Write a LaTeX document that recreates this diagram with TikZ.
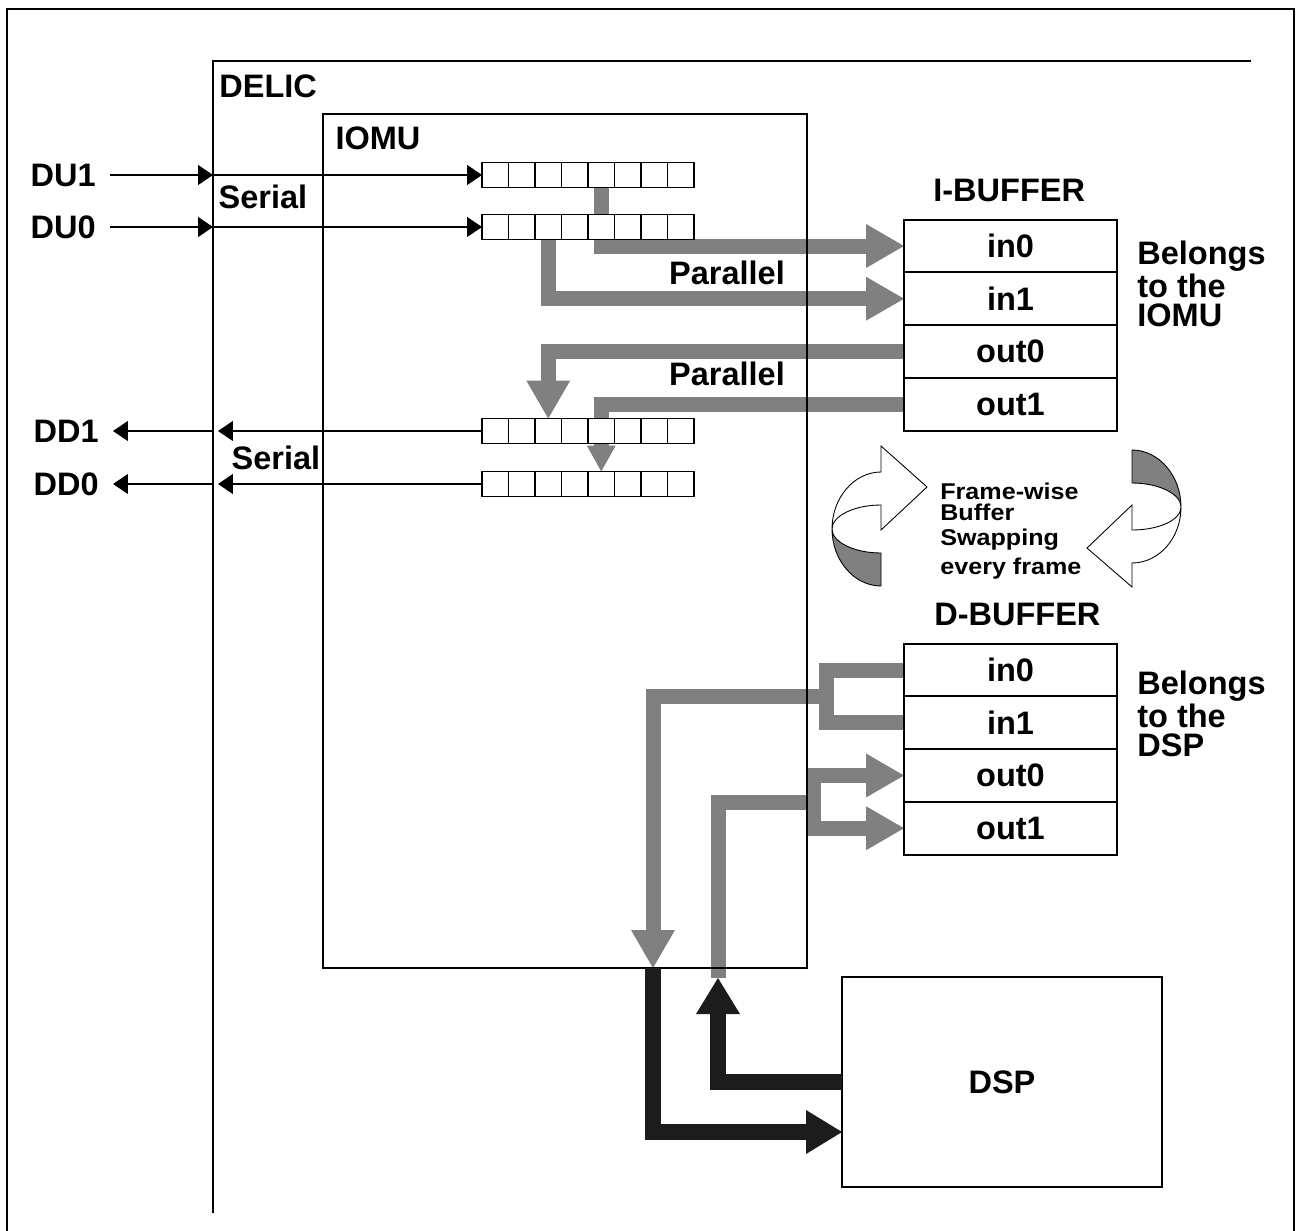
\documentclass[tikz,border=0pt]{standalone}
\usepackage{fontspec}
\setmainfont{Liberation Sans}
\newfontfamily\swapfam{Liberation Sans Bold}[FakeStretch=1.1]
\usetikzlibrary{arrows.meta,positioning,backgrounds}

\definecolor{busgray}{RGB}{128,128,128}
\definecolor{busblack}{RGB}{28,28,28}
\newcommand\swapfont{\swapfam\fontsize{13}{12}\selectfont\lineskiplimit=-20pt\relax}

\tikzset{
  lbl/.style={font=\fontsize{18.5}{17}\selectfont\bfseries, inner sep=0pt},
  sig/.style={lbl, anchor=east, inner xsep=0.28cm},
  cell/.style={draw, line width=0.9pt, fill=white, minimum width=0.53cm,
    minimum height=0.5cm, inner sep=0pt, outer sep=0pt},
  bufrow/.style={draw, line width=1.1pt, minimum width=4.26cm, minimum height=1.055cm,
    inner sep=0pt, outer sep=0pt, font=\fontsize{18.5}{17}\selectfont\bfseries},
  tarrow/.style={line width=0.7pt, -{Triangle[length=0.3cm, width=0.4cm]}},
  gline/.style={draw=busgray, line width=0.3cm, line join=miter},
  garrow/.style={gline, -{Triangle[length=0.76cm, width=0.88cm, line width=0pt]}},
  gsmall/.style={gline, -{Triangle[length=0.52cm, width=0.58cm, line width=0pt]}},
  gboth/.style={gline, {Triangle[length=0.76cm, width=0.88cm, line width=0pt]}-{Triangle[length=0.76cm, width=0.88cm, line width=0pt]}},
  barrow/.style={draw=busblack, line width=0.32cm, line join=miter,
    -{Triangle[length=0.72cm, width=0.88cm, line width=0pt]}},
  swap/.style={line width=0.5pt, line join=miter}
}

\begin{document}
\begin{tikzpicture}[x=0.02cm, y=-0.02cm]
  \useasboundingbox (0,0) rectangle (1296,1231);

  % outer frame and DELIC
  \draw[line width=1.5pt] (7,1240) -- (7,9) -- (1294,9) -- (1294,1240);
  \draw[line width=1.5pt] (213,1213) -- (213,61) -- (1251,61);
  \coordinate (delic) at (213,61);
  \node[lbl, anchor=west] (delicl) at (219,86) {DELIC};

  % IOMU
  \node[draw, line width=1.1pt, minimum width=9.68cm, minimum height=17.08cm,
    outer sep=0pt] (iomu) at (565,541) {};
  \node[lbl] (iomul) at (378,138) {IOMU};

  % shift registers
  \foreach \r/\y in {du1/175, du0/227, dd1/431, dd0/484}
    \foreach \i in {1,...,8}
      \node[cell] (\r-\i) at ({482+(\i-0.5)*26.5},\y) {};

  % serial lines
  \node[sig] (du1) at (110,175) {DU1};
  \node[sig] (du0) at (110,227) {DU0};
  \node[sig] (dd1) at (113,431) {DD1};
  \node[sig] (dd0) at (113,484) {DD0};
  \draw[tarrow] (du1.east) -- (du1.east -| delic);
  \draw[tarrow] (du1.east -| delic) -- (du1-1.west);
  \draw[tarrow] (du0.east) -- (du0.east -| delic);
  \draw[tarrow] (du0.east -| delic) -- (du0-1.west);
  \draw[tarrow] (dd1-1.west) -- ([xshift=0.1cm]dd1.east -| delic);
  \draw[tarrow] (dd1.east -| delic) -- (dd1.east);
  \draw[tarrow] (dd0-1.west) -- ([xshift=0.1cm]dd0.east -| delic);
  \draw[tarrow] (dd0.east -| delic) -- (dd0.east);
  \node[lbl] (ser1) at (263,197) {Serial};
  \node[lbl] (ser2) at (276,458) {Serial};

  % I-BUFFER
  \node[bufrow] (iin0) at (1010.5,246) {in0};
  \node[bufrow, below=0pt of iin0] (iin1) {in1};
  \node[bufrow, below=0pt of iin1] (iout0) {out0};
  \node[bufrow, below=0pt of iout0] (iout1) {out1};
  \node[lbl, anchor=south west] (ibuf) at ([xshift=0.58cm, yshift=0.34cm]iin0.north west) {I-BUFFER};
  \node[lbl, align=left, anchor=north west] (iown) at (1137,241) {Belongs\\to the\\IOMU};

  % D-BUFFER
  \node[bufrow] (din0) at (1010.5,670) {in0};
  \node[bufrow, below=0pt of din0] (din1) {in1};
  \node[bufrow, below=0pt of din1] (dout0) {out0};
  \node[bufrow, below=0pt of dout0] (dout1) {out1};
  \node[lbl, anchor=south west] (dbuf) at ([xshift=0.6cm, yshift=0.34cm]din0.north west) {D-BUFFER};
  \node[lbl, align=left, anchor=north west] (down) at (1137,671) {Belongs\\to the\\DSP};

  % DSP
  \node[draw, line width=1.1pt, minimum width=6.4cm, minimum height=4.2cm,
    outer sep=0pt, lbl] (dsp) at (1002,1082) {DSP};

  \node[lbl] (par1) at (727,273) {Parallel};
  \node[lbl] (par2) at (727,374) {Parallel};

  % parallel buses
  \coordinate (injoin) at (826,696);
  \coordinate (outjoin) at (813,802);
  \coordinate (dspin) at (653,968);
  \coordinate (dspout) at (718,978);
  \begin{scope}[on background layer]
    \draw[garrow] (du1-5.south) |- (iin0.west);
    \draw[garrow] (du0-3.south) |- (iin1.west);
    \draw[garrow] (iout0.west) -| (dd1-3.north);
    \draw[gsmall] (iout1.west) -| (dd0-5.north);
    \draw[gline] (din0.west) -| (injoin) |- (din1.west);
    \draw[garrow] (injoin) -| (dspin);
    \draw[gboth] (dout0.west) -| (outjoin) |- (dout1.west);
    \draw[gline] (dspout) |- (outjoin);
  \end{scope}
  \draw[barrow] (dspin) |- (dsp.west |- 0,1132);
  \draw[barrow] (dsp.west) -| (dspout);

  % buffer swapping
  \filldraw[swap, fill=white] (881,446) -- (927,487) -- (881,530) -- (881,505)
    .. controls (854,505) and (832,516) .. (832,529)
    .. controls (832,498) and (854,472) .. (881,472) -- cycle;
  \filldraw[swap, fill=busgray] (832,529) .. controls (832,542) and (854,553) .. (881,553)
    -- (881,586) .. controls (854,586) and (832,560) .. (832,529) -- cycle;
  \filldraw[swap, fill=busgray] (1132,450) .. controls (1159,450) and (1181,476) .. (1181,507)
    .. controls (1181,494) and (1159,483) .. (1132,483) -- cycle;
  \filldraw[swap, fill=white] (1181,507) .. controls (1181,520) and (1159,530) .. (1132,530)
    -- (1132,505) -- (1087,548) -- (1132,587) -- (1132,563)
    .. controls (1159,563) and (1181,538) .. (1181,507) -- cycle;
  \node[anchor=north west, align=left, inner sep=0pt, font=\swapfont] (swapl) at (940,483)
    {Frame-wise\\Buffer\\[2.2pt]Swapping\\[4.5pt]every frame};
\end{tikzpicture}
\end{document}
